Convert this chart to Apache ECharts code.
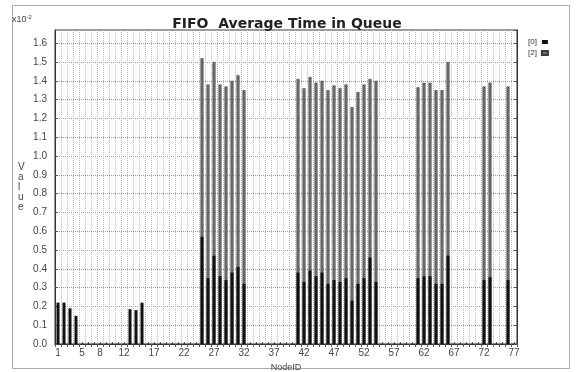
<!DOCTYPE html>
<html><head><meta charset="utf-8">
<script src="https://cdn.jsdelivr.net/npm/echarts@6/dist/echarts.min.js"></script>
<style>html,body{margin:0;padding:0;background:#fff}#c{width:576px;height:372px}</style>
</head><body><div id="c"></div>
<script>
// Categories: NodeID 1..77
const nodeIds = Array.from({length: 77}, (_, i) => String(i + 1));
// Labels shown on the x axis
const xTickLabels = ['1','5','8','12','17','22','27','32','37','42','47','52','57','62','67','72','77'];
// Nodes that have a bar
const barNodes = [1,2,3,4, 13,14,15,
  25,26,27,28,29,30,31,32,
  41,42,43,44,45,46,47,48,49,50,51,52,53,54,
  61,62,63,64,65,66,
  72,73,76];
// Series [0] (black) values, x10^-2
const q0Values = [0.22,0.22,0.19,0.15, 0.185,0.18,0.22,
  0.57,0.35,0.47,0.36,0.34,0.38,0.41,0.32,
  0.38,0.33,0.39,0.36,0.38,0.32,0.34,0.33,0.35,0.23,0.32,0.35,0.46,0.33,
  0.35,0.36,0.36,0.32,0.32,0.47,
  0.34,0.355,0.34];
// Series [2] (gray) values, x10^-2
const q2Values = [0,0,0,0, 0,0,0,
  1.52,1.38,1.50,1.38,1.37,1.40,1.43,1.35,
  1.41,1.36,1.42,1.39,1.40,1.35,1.375,1.36,1.38,1.26,1.34,1.38,1.41,1.40,
  1.365,1.39,1.39,1.35,1.35,1.50,
  1.37,1.39,1.37];
const seriesNames = ['[0]', '[2]'];

function toData(vals) {
  return nodeIds.map(id => {
    const k = barNodes.indexOf(Number(id));
    return k >= 0 ? vals[k] : 0;
  });
}

const FONT = 'Liberation Sans, Arial, sans-serif';
const chart = echarts.init(document.getElementById('c'), null, {renderer: 'canvas'});
chart.setOption({
  backgroundColor: '#fff',
  animation: false,
  title: {
    text: 'FIFO  Average Time in Queue',
    left: 282, top: 12, textAlign: 'center',
    textStyle: {fontFamily: 'DejaVu Sans, sans-serif', fontSize: 14, fontWeight: 'bold', color: '#222'}
  },
  legend: {
    data: seriesNames,
    orient: 'vertical', left: 523, top: 33,
    align: 'right', icon: 'rect',
    itemWidth: 6, itemHeight: 4, itemGap: 3,
    textStyle: {fontFamily: FONT, fontSize: 8, color: '#333'}
  },
  grid: {left: 55, right: 59, top: 30, bottom: 28, show: true, borderColor: '#333', borderWidth: 1,
         containLabel: false, outerBoundsMode: 'none'},
  xAxis: [{
    type: 'category', data: nodeIds, position: 'bottom',
    name: 'NodeID', nameLocation: 'middle', nameGap: 15,
    nameTextStyle: {fontFamily: FONT, fontSize: 9, color: '#444'},
    axisLine: {show: true, lineStyle: {color: '#333'}},
    axisTick: {show: true, inside: true, length: 2, interval: 0, alignWithLabel: true, lineStyle: {color: '#555'}},
    axisLabel: {
      interval: (i, v) => xTickLabels.indexOf(v) >= 0,
      fontFamily: FONT, fontSize: 10, color: '#444', margin: 4
    },
    splitLine: {show: true, interval: 0, lineStyle: {type: 'dotted', color: '#bbb'}}
  }, {
    type: 'category', data: nodeIds, position: 'top',
    axisLine: {show: true, lineStyle: {color: '#333'}},
    axisTick: {show: true, inside: true, length: 3, interval: 0, lineStyle: {color: '#555'}},
    axisLabel: {show: false}, splitLine: {show: false}
  }],
  yAxis: [{
    type: 'value', min: 0, max: 1.67, interval: 0.1,
    axisLine: {show: true, lineStyle: {color: '#333'}},
    axisTick: {show: true, inside: true, length: 3, lineStyle: {color: '#555'}},
    axisLabel: {
      formatter: v => v.toFixed(1), showMaxLabel: false,
      fontFamily: FONT, fontSize: 10, color: '#444', margin: 8
    },
    splitLine: {show: true, lineStyle: {type: 'dotted', color: '#999'}}
  }, {
    type: 'value', min: 0, max: 1.67, interval: 0.1, position: 'right',
    axisLine: {show: true, lineStyle: {color: '#333'}},
    axisTick: {show: true, inside: true, length: 3, lineStyle: {color: '#555'}},
    axisLabel: {show: false}, splitLine: {show: false}
  }],
  graphic: [
    {type: 'rect', shape: {x: 12.5, y: 5.5, width: 557, height: 363}, style: {fill: 'none', stroke: '#aaa', lineWidth: 1}, silent: true},
    {type: 'text', left: 12, top: 14, style: {
      text: '{a|x10}{b|-2}', fill: '#444',
      rich: {a: {fontFamily: FONT, fontSize: 9, fill: '#444'}, b: {fontFamily: FONT, fontSize: 6, fill: '#444', verticalAlign: 'top', padding: [0, 0, 5, 0]}}
    }},
    {type: 'text', left: 18, top: 162, style: {
      text: 'V\na\nl\nu\ne', fontFamily: FONT, fontSize: 10, lineHeight: 10, fill: '#444', align: 'center'
    }}
  ],
  series: [{
    name: '[2]', type: 'bar', data: toData(q2Values),
    barWidth: 3, barGap: '-100%',
    itemStyle: {color: '#6f6f6f', borderColor: '#3a3a3a', borderWidth: 0.5},
    z: 2
  }, {
    name: '[0]', type: 'bar', data: toData(q0Values),
    barWidth: 3, barGap: '-100%',
    itemStyle: {color: '#111'},
    z: 3
  }]
});
</script>
</body></html>
